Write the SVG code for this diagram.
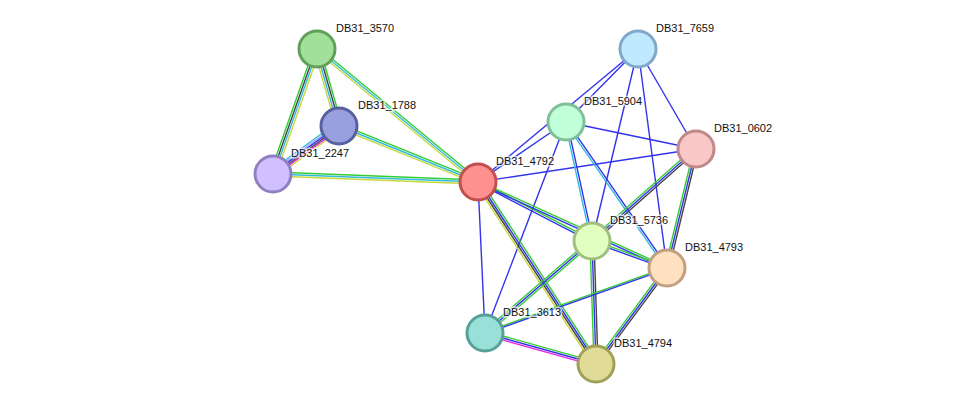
<svg xmlns="http://www.w3.org/2000/svg" width="975" height="410" viewBox="0 0 975 410">
<style>
line{stroke-width:1.4;fill:none}
.g{stroke:#33cc33}.b{stroke:#3333ee}.k{stroke:#444}.c{stroke:#33bbdd}.y{stroke:#c8d83c}.m{stroke:#e030e0}.l{stroke:#aaaaff}
circle{stroke-width:3}
text{font-family:"Liberation Sans",Arial,sans-serif;font-size:11px;fill:#111;stroke:#fff;stroke-width:3;paint-order:stroke;stroke-opacity:0.7}
</style>
<rect width="975" height="410" fill="#fff"/>
<g id="edges">
<!-- 3570-1788 -->
<line class="g" x1="319.9" y1="48.2" x2="341.9" y2="125.2"/><line class="k" x1="318" y1="48.7" x2="340" y2="125.7"/><line class="c" x1="316" y1="49.3" x2="338" y2="126.3"/><line class="y" x1="314.1" y1="49.8" x2="336.1" y2="126.8"/>
<!-- 3570-2247 -->
<line class="g" x1="314.2" y1="48" x2="270.2" y2="173"/><line class="k" x1="316.1" y1="48.7" x2="272.1" y2="173.7"/><line class="c" x1="317.9" y1="49.3" x2="273.9" y2="174.3"/><line class="y" x1="319.8" y1="50" x2="275.8" y2="175"/>
<!-- 3570-4792 -->
<line class="g" x1="318.3" y1="47.5" x2="479.3" y2="180.5"/><line class="c" x1="317" y1="49" x2="478" y2="182"/><line class="y" x1="315.7" y1="50.5" x2="476.7" y2="183.5"/>
<!-- 1788-2247 -->
<line class="y" x1="341.4" y1="129.2" x2="275.4" y2="177.2"/><line class="m" x1="340.4" y1="127.9" x2="274.4" y2="175.9"/><line class="k" x1="339.5" y1="126.7" x2="273.5" y2="174.7"/><line class="b" x1="338.5" y1="125.4" x2="272.5" y2="173.4"/><line class="l" x1="337.6" y1="124.1" x2="271.6" y2="172.1"/><line class="c" x1="336.6" y1="122.8" x2="270.6" y2="170.8"/>
<!-- 1788-4792 -->
<line class="g" x1="339.8" y1="124.2" x2="478.8" y2="180.2"/><line class="c" x1="339" y1="126" x2="478" y2="182"/><line class="y" x1="338.3" y1="127.9" x2="477.3" y2="183.9"/>
<!-- 2247-4792 -->
<line class="g" x1="273.1" y1="172" x2="478.1" y2="180"/><line class="c" x1="273" y1="174" x2="478" y2="182"/><line class="y" x1="272.9" y1="176" x2="477.9" y2="184"/>
<!-- blue singles -->
<line class="b" x1="638" y1="49" x2="566" y2="122"/>
<line class="b" x1="638" y1="49" x2="478" y2="182"/>
<line class="b" x1="638" y1="49" x2="696" y2="149"/>
<line class="b" x1="638" y1="49" x2="592" y2="241"/>
<line class="b" x1="638" y1="49" x2="667" y2="268"/>
<line class="b" x1="566" y1="122" x2="478" y2="182"/>
<line class="b" x1="566" y1="122" x2="696" y2="149"/>
<line class="b" x1="566" y1="122" x2="485" y2="333"/>
<line class="b" x1="696" y1="149" x2="478" y2="182"/>
<line class="b" x1="478" y1="182" x2="485" y2="333"/>
<!-- 5904-5736 -->
<line class="b" x1="567" y1="121.8" x2="593" y2="240.8"/><line class="c" x1="565" y1="122.2" x2="591" y2="241.2"/>
<!-- 5904-4793 -->
<line class="b" x1="566.8" y1="121.4" x2="667.8" y2="267.4"/><line class="c" x1="565.2" y1="122.6" x2="666.2" y2="268.6"/>
<!-- 0602-5736 -->
<line class="k" x1="697.3" y1="150.5" x2="593.3" y2="242.5"/><line class="b" x1="696" y1="149" x2="592" y2="241"/><line class="g" x1="694.7" y1="147.5" x2="590.7" y2="239.5"/>
<!-- 0602-4793 -->
<line class="k" x1="697.9" y1="149.5" x2="668.9" y2="268.5"/><line class="b" x1="696" y1="149" x2="667" y2="268"/><line class="g" x1="694.1" y1="148.5" x2="665.1" y2="267.5"/>
<!-- 4792-5736 -->
<line class="g" x1="478.5" y1="181.1" x2="592.5" y2="240.1"/><line class="b" x1="477.5" y1="182.9" x2="591.5" y2="241.9"/>
<!-- 4792-4793 -->
<line class="g" x1="478.4" y1="181.1" x2="667.4" y2="267.1"/><line class="b" x1="477.6" y1="182.9" x2="666.6" y2="268.9"/>
<!-- 4792-4794 -->
<line class="g" x1="480.5" y1="180.4" x2="598.5" y2="362.4"/><line class="b" x1="478.8" y1="181.5" x2="596.8" y2="363.5"/><line class="k" x1="477.2" y1="182.5" x2="595.2" y2="364.5"/><line class="y" x1="475.5" y1="183.6" x2="593.5" y2="365.6"/>
<!-- 5736-4793 -->
<line class="g" x1="592.3" y1="240.1" x2="667.3" y2="267.1"/><line class="b" x1="591.7" y1="241.9" x2="666.7" y2="268.9"/>
<!-- 5736-3613 -->
<line class="g" x1="593.3" y1="242.5" x2="486.3" y2="334.5"/><line class="b" x1="592" y1="241" x2="485" y2="333"/><line class="g" x1="590.7" y1="239.5" x2="483.7" y2="331.5"/>
<!-- 5736-4794 -->
<line class="g" x1="590" y1="241" x2="594" y2="364"/><line class="b" x1="592" y1="241" x2="596" y2="364"/><line class="k" x1="594" y1="241" x2="598" y2="364"/>
<!-- 4793-3613 -->
<line class="g" x1="667.3" y1="267.1" x2="485.3" y2="332.1"/><line class="b" x1="666.7" y1="268.9" x2="484.7" y2="333.9"/>
<!-- 4793-4794 -->
<line class="k" x1="668.6" y1="269.2" x2="597.6" y2="365.2"/><line class="b" x1="667" y1="268" x2="596" y2="364"/><line class="g" x1="665.4" y1="266.8" x2="594.4" y2="362.8"/>
<!-- 3613-4794 -->
<line class="g" x1="485.5" y1="331.1" x2="596.5" y2="362.1"/><line class="b" x1="485" y1="333" x2="596" y2="364"/><line class="m" x1="484.5" y1="334.9" x2="595.5" y2="365.9"/>
</g>
<g id="DB31_3570"><circle cx="317" cy="49" r="18" fill="#a0e098" stroke="#60a058"/><text x="336" y="32">DB31_3570</text></g>
<g id="DB31_1788"><circle cx="339" cy="126" r="18" fill="#98a0e0" stroke="#5860a0"/><text x="358" y="109">DB31_1788</text></g>
<g id="DB31_2247"><circle cx="273" cy="174" r="18" fill="#d0c0ff" stroke="#9080c0"/><text x="291" y="157">DB31_2247</text></g>
<g id="DB31_4792"><circle cx="478" cy="182" r="18" fill="#ff9090" stroke="#c05050"/><text x="496" y="165">DB31_4792</text></g>
<g id="DB31_7659"><circle cx="638" cy="49" r="18" fill="#c0e8ff" stroke="#80a8c8"/><text x="656" y="32">DB31_7659</text></g>
<g id="DB31_5904"><circle cx="566" cy="122" r="18" fill="#c0ffd8" stroke="#80c098"/><text x="584" y="105">DB31_5904</text></g>
<g id="DB31_0602"><circle cx="696" cy="149" r="18" fill="#f8c8c8" stroke="#c08888"/><text x="714" y="132">DB31_0602</text></g>
<g id="DB31_5736"><circle cx="592" cy="241" r="18" fill="#e0ffc0" stroke="#a0c080"/><text x="610" y="224">DB31_5736</text></g>
<g id="DB31_4793"><circle cx="667" cy="268" r="18" fill="#ffe0c0" stroke="#c0a080"/><text x="685" y="251">DB31_4793</text></g>
<g id="DB31_3613"><circle cx="485" cy="333" r="18" fill="#98e0d8" stroke="#58a098"/><text x="503" y="316">DB31_3613</text></g>
<g id="DB31_4794"><circle cx="596" cy="364" r="18" fill="#e0dc98" stroke="#a0a058"/><text x="614" y="347">DB31_4794</text></g>
</svg>
